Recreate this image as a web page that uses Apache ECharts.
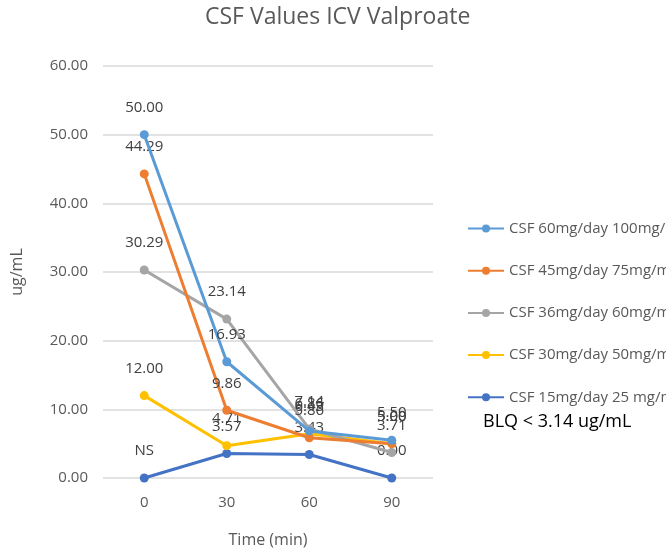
<!DOCTYPE html>
<html>
<head>
<meta charset="utf-8">
<script src="https://cdn.jsdelivr.net/npm/echarts@6/dist/echarts.min.js"></script>
<style>html,body{margin:0;padding:0;background:#fff;overflow:hidden;width:666px;height:553px}#c{width:780px;height:553px}</style>
</head>
<body>
<div id="c"></div>
<script>
const categories = ['0', '30', '60', '90'];
const yTicks = [0, 10, 20, 30, 40, 50, 60];
const seriesNames = ['CSF 60mg/day 100mg/mL', 'CSF 45mg/day 75mg/mL', 'CSF 36mg/day 60mg/mL', 'CSF 30mg/day 50mg/mL', 'CSF 15mg/day 25 mg/mL'];
const csf60 = [50.00, 16.93, 6.86, 5.50];
const csf45 = [44.29, 9.86, 5.86, 5.00];
const csf36 = [30.29, 23.14, 7.14, 3.71];
const csf30 = [12.00, 4.71, 6.43, 5.00];
const csf15 = [0.00, 3.57, 3.43, 0.00];
const csf15Labels = ['NS', '3.57', '3.43', '0.00'];
const colors = ['#5B9BD5', '#ED7D31', '#A5A5A5', '#FFC000', '#4472C4'];

const font = 'Open Sans';
const allData = [csf60, csf45, csf36, csf30, csf15];
const chart = echarts.init(document.getElementById('c'));
chart.setOption({
  animation: false,
  title: {
    text: 'CSF Values ICV Valproate', left: 200, top: 1,
    textStyle: {fontFamily: font, fontSize: 23, fontWeight: 'normal', color: '#595959'}
  },
  legend: {
    orient: 'vertical', left: 467, top: 221, padding: 0, itemGap: 27.2, itemWidth: 36, itemHeight: 10,
    textStyle: {fontFamily: font, fontSize: 15, color: '#595959'},
    data: seriesNames
  },
  graphic: [{
    type: 'text', left: 483, top: 413,
    style: {text: 'BLQ < 3.14 ug/mL', fontFamily: font, fontSize: 18, fill: '#000'}
  }],
  grid: {left: 103, right: 780 - 433, top: 66, bottom: 73},
  xAxis: {
    type: 'category', data: categories, boundaryGap: true,
    name: 'Time (min)', nameLocation: 'middle', nameGap: 54,
    nameTextStyle: {fontFamily: font, fontSize: 16, color: '#595959'},
    axisLine: {show: false}, axisTick: {show: false},
    axisLabel: {fontFamily: font, fontSize: 15, color: '#595959', margin: 17}
  },
  yAxis: {
    type: 'value', min: yTicks[0], max: yTicks[yTicks.length - 1], interval: 10,
    name: 'ug/mL', nameLocation: 'middle', nameGap: 78, nameRotate: 90,
    nameTextStyle: {fontFamily: font, fontSize: 16, color: '#595959'},
    axisLine: {show: false}, axisTick: {show: false},
    axisLabel: {fontFamily: font, fontSize: 15, color: '#595959', margin: 15, formatter: v => v.toFixed(2)},
    splitLine: {lineStyle: {color: '#D9D9D9', width: 1.5}}
  },
  series: seriesNames.map((n, i) => ({
    name: n, type: 'line', data: allData[i],
    symbol: 'circle', symbolSize: 9,
    lineStyle: {width: 3, color: colors[i]},
    itemStyle: {color: colors[i]},
    label: {
      show: true, position: 'top', distance: 15,
      fontFamily: font, fontSize: 15, color: '#404040',
      formatter: p => i === 4 ? csf15Labels[p.dataIndex] : p.value.toFixed(2)
    },
    z: 10 - i
  }))
});
</script>
</body>
</html>
